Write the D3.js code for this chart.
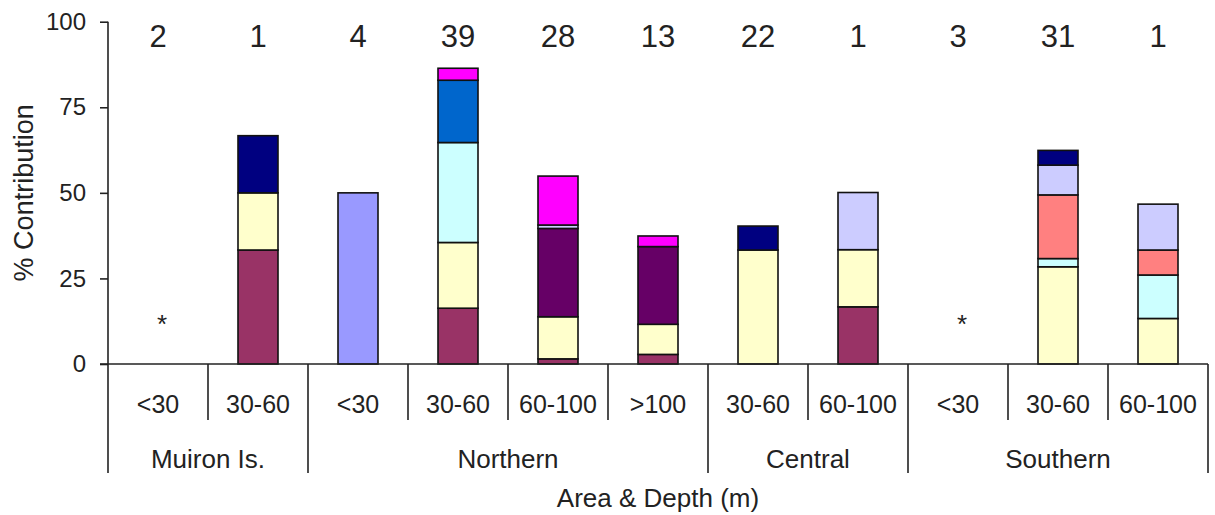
<!DOCTYPE html>
<html>
<head>
<meta charset="utf-8">
<script src="https://cdn.jsdelivr.net/npm/d3@7"></script>
<style>
  html, body { margin: 0; padding: 0; background: #fff; }
  svg { display: block; font-family: "Liberation Sans", Arial, sans-serif; }
</style>
</head>
<body>
<svg id="chart" width="1215" height="515"></svg>
<script>
// ---- data ----
const depths = ["<30", "30-60", "<30", "30-60", "60-100", ">100", "30-60", "60-100", "<30", "30-60", "60-100"];
const areas = ["Muiron Is.", "Muiron Is.", "Northern", "Northern", "Northern", "Northern", "Central", "Central", "Southern", "Southern", "Southern"];
const groupNames = ["Muiron Is.", "Northern", "Central", "Southern"];
const sampleCounts = ["2", "1", "4", "39", "28", "13", "22", "1", "3", "31", "1"];
const noData = [true, false, false, false, false, false, false, false, true, false, false];
const yTicks = [0, 25, 50, 75, 100];

const seriesMaroon   = [0, 33.3, 0, 16.3, 1.5, 2.8, 0, 16.7, 0, 0, 0];
const seriesYellow   = [0, 16.7, 0, 19.2, 12.3, 8.8, 33.3, 16.7, 0, 28.4, 13.3];
const seriesPeriwink = [0, 0, 50, 0, 0, 0, 0, 0, 0, 0, 0];
const seriesCyan     = [0, 0, 0, 29.2, 0, 0, 0, 0, 0, 2.4, 12.7];
const seriesPurple   = [0, 0, 0, 0, 25.8, 22.7, 0, 0, 0, 0, 0];
const seriesSalmon   = [0, 0, 0, 0, 0, 0, 0, 0, 0, 18.6, 7.3];
const seriesBlue     = [0, 0, 0, 18.2, 0, 0, 0, 0, 0, 0, 0];
const seriesLavender = [0, 0, 0, 0, 1.0, 0, 0, 16.7, 0, 8.7, 13.4];
const seriesNavy     = [0, 16.7, 0, 0, 0, 0, 7.0, 0, 0, 4.3, 0];
const seriesMagenta  = [0, 0, 0, 3.5, 14.3, 3.1, 0, 0, 0, 0, 0];

const seriesKeys = ["maroon", "yellow", "periwink", "cyan", "purple", "salmon", "blue", "lavender", "navy", "magenta"];
const seriesValues = [seriesMaroon, seriesYellow, seriesPeriwink, seriesCyan, seriesPurple, seriesSalmon, seriesBlue, seriesLavender, seriesNavy, seriesMagenta];
const seriesColors = ["#993366", "#FFFFCC", "#9999FF", "#CCFFFF", "#660066", "#FF8080", "#0066CC", "#CCCCFF", "#000080", "#FF00FF"];

(function () {
// ---- build table ----
const table = depths.map((d, i) => {
  const row = { idx: i };
  seriesKeys.forEach((k, j) => row[k] = seriesValues[j][i]);
  return row;
});

const svg = d3.select("#chart");
const pLeft = 108, pRight = 1208, pTop = 21.7, pBottom = 364;

const x = d3.scaleBand().domain(d3.range(depths.length)).range([pLeft, pRight]).paddingInner(0).paddingOuter(0);
const y = d3.scaleLinear().domain([0, 100]).range([pBottom, pTop]);

const stacked = d3.stack().keys(seriesKeys)(table);
const color = d3.scaleOrdinal().domain(seriesKeys).range(seriesColors);

const barW = x.bandwidth() * 0.4;

svg.append("g").selectAll("g")
  .data(stacked)
  .join("g")
  .attr("fill", d => color(d.key))
  .selectAll("rect")
  .data(d => d.filter(s => s[1] - s[0] > 0))
  .join("rect")
  .attr("x", d => x(d.data.idx) + (x.bandwidth() - barW) / 2)
  .attr("y", d => y(d[1]))
  .attr("width", barW)
  .attr("height", d => y(d[0]) - y(d[1]))
  .attr("stroke", "#111")
  .attr("stroke-width", 1.6);

// ---- y axis ----
const yAxis = d3.axisLeft(y).tickValues(yTicks).tickSize(8).tickPadding(14);
const gy = svg.append("g").attr("transform", `translate(${pLeft},0)`).call(yAxis);
gy.select(".domain").attr("stroke", "#222").attr("stroke-width", 1.6).attr("d", `M0,${pBottom}V${pTop}`);
gy.selectAll(".tick line").attr("stroke", "#222").attr("stroke-width", 1.6);
gy.selectAll(".tick text").attr("font-size", 24).attr("fill", "#222")
  .attr("font-family", "'Liberation Sans', Arial, sans-serif");

// x axis baseline
svg.append("line")
  .attr("x1", pLeft - 8).attr("x2", pRight)
  .attr("y1", pBottom).attr("y2", pBottom)
  .attr("stroke", "#222").attr("stroke-width", 1.6);

// ---- category separators ----
const groupStart = depths.map((d, i) => i === 0 || areas[i] !== areas[i - 1]);
const seps = d3.range(depths.length + 1);
svg.append("g").selectAll("line")
  .data(seps)
  .join("line")
  .attr("x1", i => i < depths.length ? x(i) : pRight)
  .attr("x2", i => i < depths.length ? x(i) : pRight)
  .attr("y1", pBottom)
  .attr("y2", i => (i === depths.length || groupStart[i]) ? 473 : 420)
  .attr("stroke", "#222").attr("stroke-width", 1.6);

// depth labels
svg.append("g").selectAll("text")
  .data(depths)
  .join("text")
  .attr("x", (d, i) => x(i) + x.bandwidth() / 2)
  .attr("y", 413)
  .attr("text-anchor", "middle")
  .attr("font-size", 25)
  .attr("fill", "#222")
  .text(d => d);

// group labels
const groups = groupNames.map(g => {
  const idxs = areas.map((a, i) => a === g ? i : -1).filter(i => i >= 0);
  return { name: g, x0: x(idxs[0]), x1: x(idxs[idxs.length - 1]) + x.bandwidth() };
});
svg.append("g").selectAll("text")
  .data(groups)
  .join("text")
  .attr("x", d => (d.x0 + d.x1) / 2)
  .attr("y", 468)
  .attr("text-anchor", "middle")
  .attr("font-size", 26)
  .attr("fill", "#222")
  .text(d => d.name);

// axis titles
svg.append("text")
  .attr("x", (pLeft + pRight) / 2)
  .attr("y", 507)
  .attr("text-anchor", "middle")
  .attr("font-size", 26)
  .attr("fill", "#222")
  .text("Area & Depth (m)");

svg.append("text")
  .attr("transform", `translate(33,${(pTop + pBottom) / 2}) rotate(-90)`)
  .attr("text-anchor", "middle")
  .attr("font-size", 27)
  .attr("fill", "#222")
  .text("% Contribution");

// sample counts on top
svg.append("g").selectAll("text")
  .data(sampleCounts)
  .join("text")
  .attr("x", (d, i) => x(i) + x.bandwidth() / 2)
  .attr("y", 47)
  .attr("text-anchor", "middle")
  .attr("font-size", 31)
  .attr("fill", "#222")
  .text(d => d);

// asterisks for no data
svg.append("g").selectAll("text")
  .data(depths.map((d, i) => i).filter(i => noData[i]))
  .join("text")
  .attr("x", i => x(i) + x.bandwidth() / 2 + 4)
  .attr("y", 333)
  .attr("text-anchor", "middle")
  .attr("font-size", 26)
  .attr("fill", "#222")
  .text("*");
})();
</script>
</body>
</html>
